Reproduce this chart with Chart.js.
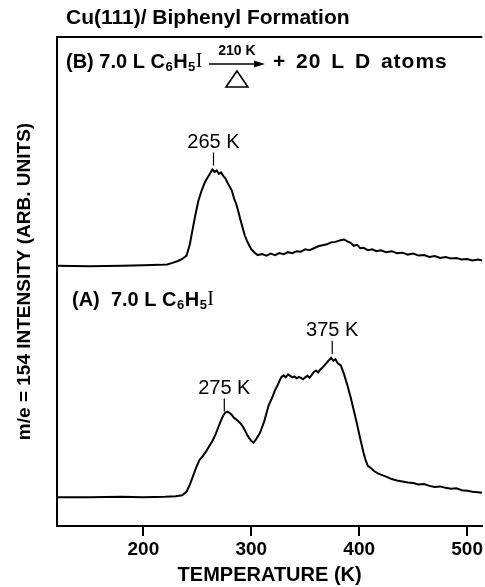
<!DOCTYPE html>
<html>
<head>
<meta charset="utf-8">
<script src="https://cdn.jsdelivr.net/npm/chart.js@4"></script>
<style>
  html, body { margin: 0; padding: 0; background: #ffffff; }
  #wrap { width: 485px; height: 587px; position: relative; }
</style>
</head>
<body>
<div id="wrap"><canvas id="tpd" width="485" height="587"></canvas></div>
<script>
// Temperature-programmed desorption traces, m/e = 154
// Trace B: 7.0 L C6H5I, 210 K anneal, + 20 L D atoms
const tempB = [120, 150, 180, 200, 215, 222, 227, 232, 236, 240, 243, 245, 248, 251, 254, 257, 260, 262, 264, 266,
    268, 270, 272, 274, 276, 278, 280, 282, 284, 286, 288, 290, 292, 294, 296, 298, 300, 303, 306, 310,
    314, 318, 322, 326, 330, 334, 338, 342, 346, 350, 354, 358, 362, 366, 370, 374, 378, 382, 386, 389,
    392, 395, 398, 401, 404, 408, 412, 416, 420, 425, 430, 435, 440, 445, 450, 455, 460, 465, 470, 475,
    480, 485, 490, 495, 500, 505, 510, 514];
const intensityB = [53.2, 53.1, 53.2, 53.3, 53.4, 53.5, 53.8, 54.2, 54.6, 55.3, 57.5, 59.9, 63.4, 66.5, 68.6, 70.3, 71.4, 72.2, 72.9, 72.4,
    72.7, 72.0, 72.3, 71.6, 71.1, 70.2, 69.4, 68.6, 67.0, 65.9, 64.3, 62.6, 61.0, 59.4, 58.3, 57.4, 56.6, 55.9, 55.4, 55.6,
    55.3, 55.7, 55.4, 55.8, 55.6, 56.0, 55.8, 56.2, 56.1, 56.6, 56.4, 56.8, 57.2, 57.4, 57.6, 58.0, 58.1, 58.4, 58.6, 58.2,
    57.9, 57.3, 57.5, 56.8, 56.9, 56.4, 56.6, 56.2, 56.4, 56.0, 56.2, 55.8, 55.9, 55.5, 55.7, 55.3, 55.4, 55.0, 55.2, 54.8,
    55.0, 54.7, 54.8, 54.5, 54.6, 54.3, 54.5, 54.3];

// Trace A: 7.0 L C6H5I
const tempA = [120, 150, 180, 200, 220, 230, 236, 240, 243, 246, 249, 252, 255, 258, 261, 264, 267, 270, 272, 274,
    276, 278, 280, 282, 284, 286, 288, 290, 292, 294, 296, 298, 300, 302, 304, 306, 308, 310, 312, 314,
    316, 318, 320, 322, 324, 326, 328, 330, 332, 334, 336, 338, 340, 342, 344, 346, 348, 350, 352, 354,
    356, 358, 360, 362, 364, 366, 368, 370, 372, 374, 376, 378, 380, 383, 386, 389, 392, 395, 398, 401,
    404, 406, 408, 411, 414, 417, 420, 425, 430, 435, 440, 445, 450, 455, 460, 465, 470, 475, 480, 485,
    490, 495, 500, 505, 510, 514];
const intensityA = [5.9, 5.9, 6.0, 5.9, 6.0, 6.1, 6.3, 7.0, 8.4, 10.2, 12.0, 13.5, 14.3, 15.2, 16.3, 17.4, 18.8, 20.5, 21.6, 22.6,
    23.2, 23.4, 23.1, 22.7, 22.1, 21.8, 21.4, 21.0, 20.4, 19.6, 18.7, 18.0, 17.4, 17.0, 17.6, 18.3, 19.0, 20.2, 21.4, 23.0,
    24.6, 25.6, 26.6, 27.8, 28.6, 29.6, 30.5, 30.8, 30.4, 31.0, 30.7, 30.4, 30.6, 30.2, 30.5, 30.3, 30.0, 30.4, 30.7, 30.3,
    30.9, 31.5, 31.8, 31.4, 32.0, 32.4, 32.9, 33.4, 33.9, 34.4, 33.8, 34.1, 33.3, 32.8, 31.0, 28.8, 26.4, 23.6, 20.8, 17.8,
    15.0, 13.4, 12.3, 11.8, 11.2, 10.8, 10.5, 10.1, 9.6, 9.3, 9.1, 8.9, 8.8, 8.5, 8.6, 8.2, 8.0, 8.1, 7.8, 7.6,
    7.7, 7.3, 7.2, 7.0, 6.9, 6.8];

// Axis
const xTickValues = [200, 300, 400, 500];
const xMin = 120;
const xMax = 514;

// Peak markers
const peakTemps = [265, 275, 375];
const peakLabels = ['265 K', '275 K', '375 K'];
const peakSeries = ['B', 'A', 'A'];

const SANS = "'Liberation Sans', Arial, Helvetica, sans-serif";
const SERIF = "'Liberation Serif', 'Times New Roman', serif";

function toPoints(xs, ys) {
    return xs.map((x, i) => ({ x: x, y: ys[i] }));
}

function valueAt(xs, ys, t) {
    let best = 0;
    xs.forEach((x, i) => { if (Math.abs(x - t) < Math.abs(xs[best] - t)) best = i; });
    return ys[best];
}

// "7.0 L C6H5I" with subscripts
function drawFormula(ctx, x, y, prefix) {
    ctx.textAlign = 'left';
    ctx.textBaseline = 'middle';
    const parts = [
        { t: prefix + 'C', f: 'bold 20px ' + SANS, dy: 0 },
        { t: '6', f: 'bold 13px ' + SANS, dy: 5 },
        { t: 'H', f: 'bold 20px ' + SANS, dy: 0 },
        { t: '5', f: 'bold 13px ' + SANS, dy: 5 },
        { t: 'I', f: '20px ' + SERIF, dy: 0 },
    ];
    parts.forEach(p => {
        ctx.font = p.f;
        ctx.fillText(p.t, x, y + p.dy);
        x += ctx.measureText(p.t).width + 0.5;
    });
    return x;
}

const annotations = {
    id: 'annotations',
    afterDatasetsDraw(chart) {
        const ctx = chart.ctx;
        const area = chart.chartArea;
        const xs = chart.scales.x;
        const ys = chart.scales.y;
        ctx.save();
        ctx.fillStyle = '#000';
        ctx.strokeStyle = '#000';

        // figure title
        ctx.font = 'bold 21px ' + SANS;
        ctx.textAlign = 'left';
        ctx.textBaseline = 'middle';
        ctx.fillText('Cu(111)/ Biphenyl Formation', 66, 18);

        // top frame line
        ctx.lineWidth = 2;
        ctx.beginPath();
        ctx.moveTo(area.left, area.top);
        ctx.lineTo(area.right, area.top);
        ctx.stroke();

        // peak labels with small marker lines
        peakTemps.forEach((t, i) => {
            const v = peakSeries[i] === 'A' ? valueAt(tempA, intensityA, t) : valueAt(tempB, intensityB, t);
            const px = xs.getPixelForValue(t);
            const py = ys.getPixelForValue(v);
            ctx.lineWidth = 1.2;
            ctx.beginPath();
            ctx.moveTo(px, py - 4);
            ctx.lineTo(px, py - 17);
            ctx.stroke();
            ctx.font = '20px ' + SANS;
            ctx.textAlign = 'center';
            ctx.textBaseline = 'middle';
            ctx.fillText(peakLabels[i], px, py - 27);
        });

        // (B) label with anneal arrow
        const rowB = 62;
        let x = drawFormula(ctx, 66, rowB, '(B) 7.0 L ');
        const a0 = x + 6, a1 = x + 62;
        ctx.lineWidth = 1.5;
        ctx.beginPath();
        ctx.moveTo(a0, rowB + 2);
        ctx.lineTo(a1 - 6, rowB + 2);
        ctx.stroke();
        ctx.beginPath();
        ctx.moveTo(a1, rowB + 2);
        ctx.lineTo(a1 - 11, rowB - 1.5);
        ctx.lineTo(a1 - 11, rowB + 5.5);
        ctx.closePath();
        ctx.fill();
        const ac = (a0 + a1) / 2;
        ctx.font = 'bold 14px ' + SANS;
        ctx.textAlign = 'center';
        ctx.fillText('210 K', ac, rowB - 11);
        ctx.lineWidth = 1.6;
        ctx.beginPath();
        ctx.moveTo(ac, rowB + 9);
        ctx.lineTo(ac + 11, rowB + 25);
        ctx.lineTo(ac - 11, rowB + 25);
        ctx.closePath();
        ctx.stroke();
        ctx.font = 'bold 21px ' + SANS;
        ctx.textAlign = 'left';
        ctx.letterSpacing = '1px';
        ctx.wordSpacing = '3px';
        ctx.fillText('+ 20 L D atoms', a1 + 8, rowB);
        ctx.letterSpacing = '0px';
        ctx.wordSpacing = '0px';

        // (A) label
        drawFormula(ctx, 72, 300, '(A)  7.0 L ');
        ctx.restore();
    }
};

Chart.defaults.font.family = SANS;
Chart.defaults.color = '#000';

new Chart(document.getElementById('tpd'), {
    type: 'line',
    data: {
        datasets: [
            { label: 'B', data: toPoints(tempB, intensityB) },
            { label: 'A', data: toPoints(tempA, intensityA) },
        ]
    },
    options: {
        responsive: false,
        animation: false,
        devicePixelRatio: 1,
        layout: { padding: { top: 37, left: 0, right: 0, bottom: 0 } },
        elements: {
            line: { borderColor: '#000', borderWidth: 2, tension: 0, fill: false },
            point: { radius: 0 }
        },
        plugins: {
            legend: { display: false },
            tooltip: { enabled: false },
            title: { display: false }
        },
        scales: {
            x: {
                type: 'linear',
                min: xMin,
                max: xMax,
                afterBuildTicks: s => { s.ticks = xTickValues.map(v => ({ value: v })); },
                afterFit: s => { s.height = 61; },
                grid: { drawOnChartArea: false, drawTicks: true, tickLength: 10, color: '#000', lineWidth: 2 },
                border: { display: true, color: '#000', width: 2 },
                ticks: { font: { size: 19, weight: 'bold' }, color: '#000', padding: 2, maxRotation: 0 },
                title: {
                    display: true,
                    text: 'TEMPERATURE (K)',
                    color: '#000',
                    font: { size: 20, weight: 'bold' },
                    padding: { top: 0, bottom: 0 }
                }
            },
            y: {
                min: 0,
                max: 100,
                afterFit: s => { s.width = 57; },
                grid: { display: false },
                border: { display: true, color: '#000', width: 2 },
                ticks: { display: false },
                title: {
                    display: true,
                    text: 'm/e = 154 INTENSITY (ARB. UNITS)',
                    color: '#000',
                    font: { size: 19, weight: 'bold' },
                    padding: { top: 13, bottom: 0 }
                }
            }
        }
    },
    plugins: [annotations]
});
</script>
</body>
</html>
